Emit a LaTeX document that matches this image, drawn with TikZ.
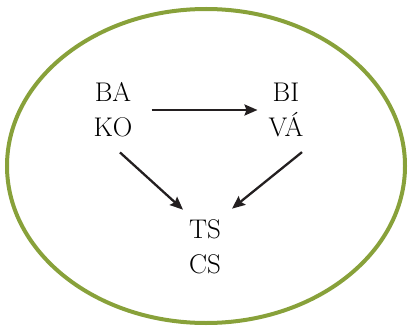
\documentclass[tikz,border=0pt]{standalone}
\usepackage{tikz}
\usetikzlibrary{arrows.meta,positioning}
\definecolor{rim}{RGB}{136,161,58}
\definecolor{ink}{RGB}{35,31,32}
\tikzset{
  lbl/.style={align=center, inner sep=0pt, font=\fontsize{27}{35}\selectfont},
  link/.style={-{Stealth[length=13pt,width=11pt,inset=2pt]}, line width=2.3pt, color=ink},
}

\begin{document}
\begin{tikzpicture}[x=1pt,y=1pt]
  \useasboundingbox (0,0) rectangle (409,327);
  \draw[rim, line width=4pt] (206,161) ellipse [x radius=199, y radius=157];
  \node[lbl] (ba) at (113,217) {BA\\KO};
  \node[lbl] (bi) at (286,217) {BI\\VÁ};
  \node[lbl] (ts) at (205,80) {TS\\CS};
  \draw[link, shorten <=19pt, shorten >=11pt] (ba.east) -- (bi.west);
  \draw[link] ([xshift=7pt,yshift=-15pt]ba.south) -- ([xshift=-22pt,yshift=10pt]ts.north);
  \draw[link] ([xshift=16pt,yshift=-15pt]bi.south) -- ([xshift=27pt,yshift=11pt]ts.north);
\end{tikzpicture}
\end{document}
